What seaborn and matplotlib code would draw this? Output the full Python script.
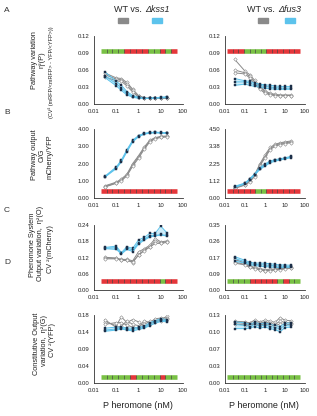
import numpy as np
import pandas as pd
import seaborn as sns
import matplotlib.pyplot as plt
from matplotlib.patches import Rectangle
from matplotlib.ticker import FixedLocator, FixedFormatter, NullLocator

sns.set_style("white")
plt.rcParams['font.family'] = ['Liberation Sans Narrow', 'Liberation Sans', 'DejaVu Sans']

# pheromone doses (nM)
DOSE = [0.03, 0.1, 0.17, 0.3, 0.55, 1, 1.8, 3.2, 5.6, 10, 20]

# A: pathway variation
A_L_WT = [[0.055, 0.046, 0.045, 0.038, 0.026, 0.015, 0.011, 0.010, 0.010, 0.011, 0.011],
          [0.052, 0.044, 0.043, 0.035, 0.024, 0.014, 0.010, 0.010, 0.010, 0.010, 0.011],
          [0.048, 0.041, 0.040, 0.032, 0.021, 0.012, 0.010, 0.010, 0.010, 0.010, 0.010]]
A_L_MUT = [[0.057, 0.040, 0.033, 0.022, 0.015, 0.012, 0.010, 0.010, 0.011, 0.012, 0.013],
           [0.050, 0.036, 0.028, 0.019, 0.013, 0.011, 0.010, 0.010, 0.011, 0.011, 0.012],
           [0.047, 0.032, 0.024, 0.016, 0.012, 0.010, 0.010, 0.010, 0.010, 0.011, 0.011]]
A_R_WT = [[0.079, 0.058, 0.052, 0.042, 0.031, 0.023, 0.019, 0.017, 0.016, 0.016, 0.016],
          [0.060, 0.055, 0.049, 0.039, 0.029, 0.021, 0.017, 0.016, 0.015, 0.015, 0.015],
          [0.055, 0.053, 0.046, 0.036, 0.026, 0.019, 0.016, 0.015, 0.015, 0.015, 0.015]]
A_R_MUT = [[0.045, 0.041, 0.040, 0.037, 0.035, 0.034, 0.033, 0.032, 0.031, 0.031, 0.031],
           [0.039, 0.039, 0.037, 0.034, 0.033, 0.031, 0.030, 0.029, 0.028, 0.028, 0.028],
           [0.033, 0.035, 0.033, 0.031, 0.030, 0.028, 0.027, 0.026, 0.026, 0.026, 0.026]]

# B: pathway output
B_L_WT = [[0.70, 0.92, 1.10, 1.38, 2.00, 2.45, 2.95, 3.35, 3.50, 3.57, 3.60],
          [0.66, 0.88, 1.05, 1.32, 1.92, 2.38, 2.88, 3.30, 3.47, 3.54, 3.57],
          [0.63, 0.85, 1.00, 1.28, 1.85, 2.30, 2.82, 3.25, 3.43, 3.51, 3.54]]
B_L_MUT = [[1.25, 1.80, 2.20, 2.80, 3.35, 3.62, 3.75, 3.80, 3.82, 3.80, 3.78],
           [1.22, 1.75, 2.14, 2.73, 3.30, 3.58, 3.72, 3.78, 3.80, 3.78, 3.76],
           [1.20, 1.71, 2.10, 2.68, 3.26, 3.55, 3.70, 3.76, 3.78, 3.76, 3.74]]
B_R_WT = [[0.68, 0.90, 1.12, 1.50, 2.22, 2.80, 3.30, 3.50, 3.60, 3.66, 3.72],
          [0.65, 0.87, 1.08, 1.45, 2.15, 2.70, 3.22, 3.45, 3.55, 3.60, 3.65],
          [0.62, 0.84, 1.04, 1.40, 2.08, 2.62, 3.15, 3.38, 3.48, 3.55, 3.60]]
B_R_MUT = [[0.76, 0.98, 1.25, 1.58, 1.98, 2.22, 2.42, 2.50, 2.56, 2.62, 2.72],
           [0.72, 0.95, 1.21, 1.53, 1.92, 2.15, 2.36, 2.45, 2.52, 2.58, 2.68],
           [0.69, 0.92, 1.18, 1.49, 1.86, 2.08, 2.30, 2.40, 2.48, 2.54, 2.64]]

# C: pheromone system output variation
C_L_WT = [[0.121, 0.118, 0.113, 0.113, 0.108, 0.141, 0.152, 0.165, 0.190, 0.178, 0.181],
          [0.118, 0.117, 0.111, 0.111, 0.101, 0.130, 0.148, 0.160, 0.180, 0.175, 0.178],
          [0.115, 0.115, 0.110, 0.109, 0.105, 0.128, 0.145, 0.158, 0.172, 0.172, 0.176]]
C_L_MUT = [[0.157, 0.162, 0.138, 0.160, 0.154, 0.185, 0.194, 0.209, 0.209, 0.236, 0.209],
           [0.155, 0.156, 0.135, 0.155, 0.148, 0.175, 0.188, 0.200, 0.203, 0.202, 0.203],
           [0.153, 0.150, 0.133, 0.150, 0.142, 0.170, 0.184, 0.196, 0.199, 0.205, 0.198]]
C_R_WT = [[0.165, 0.145, 0.130, 0.122, 0.115, 0.110, 0.112, 0.113, 0.116, 0.120, 0.122],
          [0.150, 0.138, 0.125, 0.118, 0.110, 0.105, 0.107, 0.110, 0.113, 0.117, 0.119],
          [0.145, 0.135, 0.122, 0.115, 0.108, 0.103, 0.105, 0.108, 0.110, 0.114, 0.116]]
C_R_MUT = [[0.180, 0.160, 0.150, 0.145, 0.145, 0.144, 0.142, 0.138, 0.135, 0.135, 0.133],
           [0.170, 0.152, 0.143, 0.138, 0.136, 0.135, 0.132, 0.130, 0.128, 0.128, 0.127],
           [0.155, 0.145, 0.137, 0.132, 0.128, 0.126, 0.124, 0.122, 0.121, 0.122, 0.122]]

# D: constitutive output variation
D_L_WT = [[0.162, 0.152, 0.175, 0.160, 0.168, 0.162, 0.150, 0.157, 0.165, 0.168, 0.177],
          [0.155, 0.160, 0.160, 0.153, 0.148, 0.146, 0.165, 0.160, 0.170, 0.172, 0.172],
          [0.168, 0.147, 0.150, 0.165, 0.155, 0.152, 0.155, 0.163, 0.162, 0.165, 0.170]]
D_L_MUT = [[0.145, 0.148, 0.148, 0.146, 0.145, 0.148, 0.150, 0.160, 0.165, 0.170, 0.168],
           [0.140, 0.143, 0.145, 0.142, 0.142, 0.145, 0.147, 0.156, 0.162, 0.166, 0.165],
           [0.137, 0.140, 0.143, 0.140, 0.138, 0.142, 0.145, 0.152, 0.158, 0.163, 0.162]]
D_R_WT = [[0.118, 0.117, 0.115, 0.120, 0.117, 0.120, 0.118, 0.116, 0.125, 0.120, 0.119],
          [0.116, 0.114, 0.112, 0.116, 0.114, 0.117, 0.114, 0.112, 0.118, 0.116, 0.115],
          [0.113, 0.111, 0.110, 0.113, 0.110, 0.114, 0.111, 0.109, 0.113, 0.112, 0.112]]
D_R_MUT = [[0.117, 0.115, 0.112, 0.116, 0.113, 0.115, 0.112, 0.110, 0.108, 0.114, 0.115],
           [0.112, 0.110, 0.108, 0.112, 0.109, 0.111, 0.108, 0.106, 0.104, 0.110, 0.111],
           [0.104, 0.104, 0.105, 0.108, 0.105, 0.107, 0.104, 0.102, 0.098, 0.106, 0.107]]

# significance strips (G = n.s., R = significant), 13 cells each
STRIP_A_L = "GGGGRRRRGGRGR"
STRIP_A_R = "RRRGGGGRRRRRR"
STRIP_B_L = "RRRRRRRRRRRRR"
STRIP_B_R = "RRRRRGGRRRRRR"
STRIP_C_L = "RRRRRRRRRRGRR"
STRIP_C_R = "GGGGRRRRRGRGG"
STRIP_D_L = "GGGGGRGGGGRGG"
STRIP_D_R = "GGGGGGGGGGGGG"

Y_MAX_L = [0.12, 4.0, 0.24, 0.18]
Y_MAX_R = [0.12, 4.5, 0.35, 0.13]

GRAY = "#8a8a8a"
BLUE = "#5cc3ec"
NAVY = "#1c2f48"
GREEN = "#79c145"
RED = "#e5363a"

W, H = 317, 416
fig = plt.figure(figsize=(W / 100, H / 100), dpi=100)


def px_axes(x0, y0, x1, y1):
    return fig.add_axes([x0 / W, 1 - y1 / H, (x1 - x0) / W, (y1 - y0) / H])


def draw_panel(ax, wt, mut, ymax, flags, strip_y, strip_lo, strip_hi):
    rows = []
    for strain, reps in (("WT", wt), ("mut", mut)):
        for i, rep in enumerate(reps):
            for d, v in zip(DOSE, rep):
                rows.append((strain, i, d, v))
    df = pd.DataFrame(rows, columns=["strain", "rep", "dose", "value"])
    wt_df = df[df.strain == "WT"]
    mut_df = df[df.strain == "mut"]

    ax.set_xscale("log")
    # light band spanning the mutant replicates
    sns.lineplot(data=mut_df, x="dose", y="value", errorbar=("pi", 100), color=BLUE,
                 linewidth=0, err_kws={"alpha": 0.3, "linewidth": 0}, ax=ax)
    sns.lineplot(data=wt_df, x="dose", y="value", units="rep", estimator=None, color=GRAY,
                 linewidth=0.7, marker="D", markersize=1.8, markerfacecolor="white",
                 markeredgecolor=GRAY, markeredgewidth=0.4, ax=ax)
    sns.lineplot(data=mut_df, x="dose", y="value", units="rep", estimator=None, color=BLUE,
                 linewidth=0.7, marker="s", markersize=1.5, markerfacecolor=NAVY,
                 markeredgecolor=NAVY, markeredgewidth=0.3, ax=ax)

    # significance strip
    edges = np.logspace(np.log10(strip_lo), np.log10(strip_hi), len(flags) + 1)
    for i, f in enumerate(flags):
        ax.hlines(strip_y, edges[i], edges[i + 1], color=GREEN if f == "G" else RED,
                  lw=3.3, capstyle="butt")
    ax.plot(edges[1:-1], [strip_y] * (len(edges) - 2), ls="none", marker="|", ms=3.2,
            mew=0.4, color="#222222")

    ax.set_xlim(0.01, 100)
    ax.set_ylim(0, ymax)
    ax.xaxis.set_major_locator(FixedLocator([0.01, 0.1, 1, 10, 100]))
    ax.xaxis.set_major_formatter(FixedFormatter(["0.01", "0.1", "1", "10", "100"]))
    ax.xaxis.set_minor_locator(NullLocator())
    yt = np.linspace(0, ymax, 5)
    ax.set_yticks(yt)
    ax.set_yticklabels([f"{t:.2f}" for t in yt])
    ax.set_xlabel("")
    ax.set_ylabel("")
    ax.tick_params(labelsize=4.3, length=1.8, width=0.5, pad=1.5, colors="#222222")
    sns.despine(ax=ax)
    for s in ("left", "bottom"):
        ax.spines[s].set_linewidth(0.6)
        ax.spines[s].set_color("#333333")


ROWS = [(36, 104), (129, 198), (225, 290), (315, 383)]
LEFT_X = (94, 183)
RIGHT_X = (225, 305)

left_data = [(A_L_WT, A_L_MUT, STRIP_A_L, 0.093), (B_L_WT, B_L_MUT, STRIP_B_L, 0.42),
             (C_L_WT, C_L_MUT, STRIP_C_L, 0.035), (D_L_WT, D_L_MUT, STRIP_D_L, 0.016)]
right_data = [(A_R_WT, A_R_MUT, STRIP_A_R, 0.093), (B_R_WT, B_R_MUT, STRIP_B_R, 0.47),
              (C_R_WT, C_R_MUT, STRIP_C_R, 0.05), (D_R_WT, D_R_MUT, STRIP_D_R, 0.0115)]

for r, (y0, y1) in enumerate(ROWS):
    axl = px_axes(LEFT_X[0], y0, LEFT_X[1], y1)
    wt, mut, flags, sy = left_data[r]
    draw_panel(axl, wt, mut, Y_MAX_L[r], flags, sy, 0.02, 55)
    axr = px_axes(RIGHT_X[0], y0, RIGHT_X[1], y1)
    wt, mut, flags, sy = right_data[r]
    draw_panel(axr, wt, mut, Y_MAX_R[r], flags, sy, 0.013, 55)


def ft(x, y, s, **kw):
    fig.text(x / W, 1 - y / H, s, **kw)


# legend headers
ft(128, 10, "WT vs.", fontsize=6.5, ha="center", va="center")
ft(157, 10, "Δkss1", fontsize=6.5, ha="center", va="center", style="italic")
ft(261, 10, "WT vs.", fontsize=6.5, ha="center", va="center")
ft(290, 10, "Δfus3", fontsize=6.5, ha="center", va="center", style="italic")
for x0, col in ((118, GRAY), (152, BLUE), (258, GRAY), (285, BLUE)):
    fig.patches.append(Rectangle((x0 / W, 1 - 23 / H), 9.5 / W, 5 / H, color=col,
                                 transform=fig.transFigure, figure=fig))

# panel letters
for letter, y in (("A", 11), ("B", 113), ("C", 210), ("D", 262)):
    ft(7, y, letter, fontsize=6, ha="center", va="center", color="#333333")

# y-axis labels
lab = dict(rotation=90, ha="center", va="center", color="#222222")
fs = 5.3
ft(34, 60, "Pathway variation", fontsize=fs, **lab)
ft(42, 60, "η²(P)", fontsize=fs, **lab)
ft(51, 72, "(CV² (mRFP/<mRFP> - YFP/<YFP>))", fontsize=4.0, **lab)

ft(34, 155, "Pathway output", fontsize=fs, **lab)
ft(42, 155, "O/G", fontsize=fs, **lab)
ft(50, 157, "mCherry/YFP", fontsize=fs, **lab)

ft(32, 245, "Pheromone System", fontsize=fs, **lab)
ft(41, 243, "Output variation,  η²(O)", fontsize=fs, **lab)
ft(50, 249, "CV ²(mCherry)", fontsize=fs, **lab)

ft(37, 344, "Constitutive Output", fontsize=fs, **lab)
ft(45, 341, "variation,  η²(G)", fontsize=fs, **lab)
ft(53, 340, "CV ²(YFP)", fontsize=fs, **lab)

# x labels
ft(138, 405, "P heromone (nM)", fontsize=6.5, ha="center", va="center", color="#222222")
ft(264, 405, "P heromone (nM)", fontsize=6.5, ha="center", va="center", color="#222222")

fig.savefig("out.png", dpi=100)
